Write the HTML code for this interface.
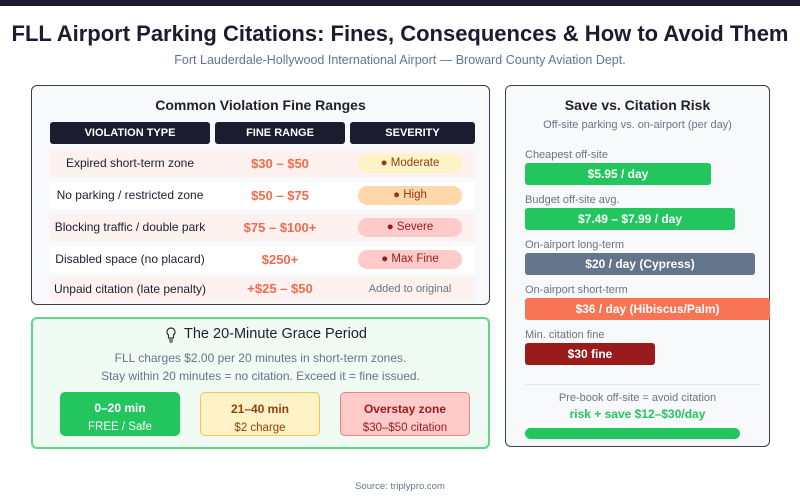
<!DOCTYPE html>
<html><head><meta charset="utf-8"><style>
*{margin:0;padding:0;box-sizing:border-box}
body{width:800px;height:500px;background:#fff;font-family:"Liberation Sans",Arial,sans-serif;position:relative;overflow:hidden;color:#1e1e2e}
.a{position:absolute}
.c{text-align:center}
.hd{background:#1b1c30;color:#fff;font-weight:bold;font-size:11px;border-radius:3px;height:22px;line-height:22px;text-align:center;top:122px}
.row{left:50px;width:425px;height:27px}
.cell{position:absolute;top:0;height:27px;line-height:27px;text-align:center;font-size:12px}
.fine{color:#f26b4a;font-weight:bold;font-size:13px}
.pill{position:absolute;left:308px;top:4px;width:104px;height:19px;border-radius:10px;line-height:19px;text-align:center;font-size:11.5px}
.lbl{left:525px;font-size:11px;color:#6b7280}
.bar{left:525px;height:22px;border-radius:3px;color:#fff;font-weight:bold;font-size:12px;text-align:center;line-height:22px}
.bx{top:392px;width:120px;height:44px;border-radius:5px;text-align:center;font-size:11.5px;padding-top:7px;line-height:18px}
.bx b{font-size:12px}
</style></head><body>
<div class="a" style="left:0;top:0;width:800px;height:6px;background:#1b1c30"></div>
<div class="a c" style="left:0;top:21px;width:800px;font-size:22px;font-weight:bold;color:#1b1c30">FLL Airport Parking Citations: Fines, Consequences &amp; How to Avoid Them</div>
<div class="a c" style="left:0;top:53px;width:800px;font-size:12.5px;color:#64748b">Fort Lauderdale-Hollywood International Airport — Broward County Aviation Dept.</div>

<div class="a" style="left:31px;top:85px;width:459px;height:220px;border:1.5px solid #3b3d4d;border-radius:6px;background:#f8f9fb"></div>
<div class="a c" style="left:31px;top:97px;width:459px;font-size:14px;font-weight:bold">Common Violation Fine Ranges</div>
<div class="a hd" style="left:50px;width:160px">VIOLATION TYPE</div>
<div class="a hd" style="left:215px;width:130px">FINE RANGE</div>
<div class="a hd" style="left:350px;width:125px">SEVERITY</div>

<div class="a row" style="top:150px;background:#fdf2f0"><div class="cell" style="left:0;width:160px">Expired short-term zone</div><div class="cell fine" style="left:165px;width:130px">$30 – $50</div><div class="pill" style="background:#fef3c7;color:#92400e">● Moderate</div></div>
<div class="a row" style="top:182px;background:#fff"><div class="cell" style="left:0;width:160px">No parking / restricted zone</div><div class="cell fine" style="left:165px;width:130px">$50 – $75</div><div class="pill" style="background:#fed7aa;color:#9a3412">● High</div></div>
<div class="a row" style="top:214px;background:#fdf2f0"><div class="cell" style="left:0;width:160px">Blocking traffic / double park</div><div class="cell fine" style="left:165px;width:130px">$75 – $100+</div><div class="pill" style="background:#fecaca;color:#991b1b">● Severe</div></div>
<div class="a row" style="top:246px;background:#fff"><div class="cell" style="left:0;width:160px">Disabled space (no placard)</div><div class="cell fine" style="left:165px;width:130px">$250+</div><div class="pill" style="background:#fecaca;color:#991b1b">● Max Fine</div></div>
<div class="a row" style="top:277px;height:24px;background:#fdf2f0"><div class="cell" style="left:0;width:160px;height:24px;line-height:24px">Unpaid citation (late penalty)</div><div class="cell fine" style="left:165px;width:130px;height:24px;line-height:24px">+$25 – $50</div><div class="cell" style="left:308px;width:104px;height:24px;line-height:24px;font-size:11px;color:#6b7280">Added to original</div></div>

<div class="a" style="left:31px;top:317px;width:459px;height:132px;border:2px solid #5fd68a;border-radius:6px;background:#effbf3"></div>
<svg class="a" style="left:166px;top:327px" width="10" height="16" viewBox="0 0 10 16"><path d="M5 1a4 4 0 0 0-2.5 7.1V11h5V8.1A4 4 0 0 0 5 1z" fill="none" stroke="#333" stroke-width="1.2"/><path d="M3 13h4M3.5 15h3" stroke="#333" stroke-width="1.2"/></svg>
<div class="a" style="left:184px;top:326px;font-size:14.5px;color:#1e1e2e">The 20-Minute Grace Period</div>
<div class="a c" style="left:31px;top:351px;width:459px;font-size:12px;color:#64748b">FLL charges $2.00 per 20 minutes in short-term zones.</div>
<div class="a c" style="left:31px;top:369px;width:459px;font-size:12px;color:#64748b">Stay within 20 minutes = no citation. Exceed it = fine issued.</div>
<div class="a bx" style="left:60px;background:#22c55e;color:#fff"><b>0–20 min</b><br>FREE / Safe</div>
<div class="a bx" style="left:200px;background:#fef3c7;border:1.5px solid #f5c451;color:#92400e"><b>21–40 min</b><br>$2 charge</div>
<div class="a bx" style="left:340px;width:130px;background:#fecaca;border:1.5px solid #f08080;color:#991b1b"><b>Overstay zone</b><br>$30–$50 citation</div>

<div class="a" style="left:505px;top:85px;width:265px;height:362px;border:1.5px solid #3b3d4d;border-radius:6px;background:#f8f9fb"></div>
<div class="a c" style="left:505px;top:97px;width:265px;font-size:14px;font-weight:bold">Save vs. Citation Risk</div>
<div class="a c" style="left:505px;top:119px;width:265px;font-size:11px;color:#6b7280">Off-site parking vs. on-airport (per day)</div>
<div class="a lbl" style="top:149px">Cheapest off-site</div>
<div class="a bar" style="top:163px;width:186px;background:#22c55e">$5.95 / day</div>
<div class="a lbl" style="top:194px">Budget off-site avg.</div>
<div class="a bar" style="top:208px;width:210px;background:#22c55e">$7.49 – $7.99 / day</div>
<div class="a lbl" style="top:239px">On-airport long-term</div>
<div class="a bar" style="top:253px;width:230px;background:#64748b">$20 / day (Cypress)</div>
<div class="a lbl" style="top:284px">On-airport short-term</div>
<div class="a bar" style="top:298px;width:245px;background:#f87454">$36 / day (Hibiscus/Palm)</div>
<div class="a lbl" style="top:329px">Min. citation fine</div>
<div class="a bar" style="top:343px;width:130px;background:#991b1b">$30 fine</div>
<div class="a" style="left:525px;top:384px;width:235px;height:1px;background:#e2e8f0"></div>
<div class="a c" style="left:505px;top:392px;width:265px;font-size:11px;color:#6b7280">Pre-book off-site = avoid citation</div>
<div class="a c" style="left:505px;top:407px;width:265px;font-size:12px;font-weight:bold;color:#22c55e">risk + save $12–$30/day</div>
<div class="a" style="left:525px;top:428px;width:215px;height:11px;border-radius:6px;background:#22c55e"></div>

<div class="a c" style="left:0;top:481px;width:800px;font-size:9.5px;color:#64748b">Source: triplypro.com</div>
</body></html>
